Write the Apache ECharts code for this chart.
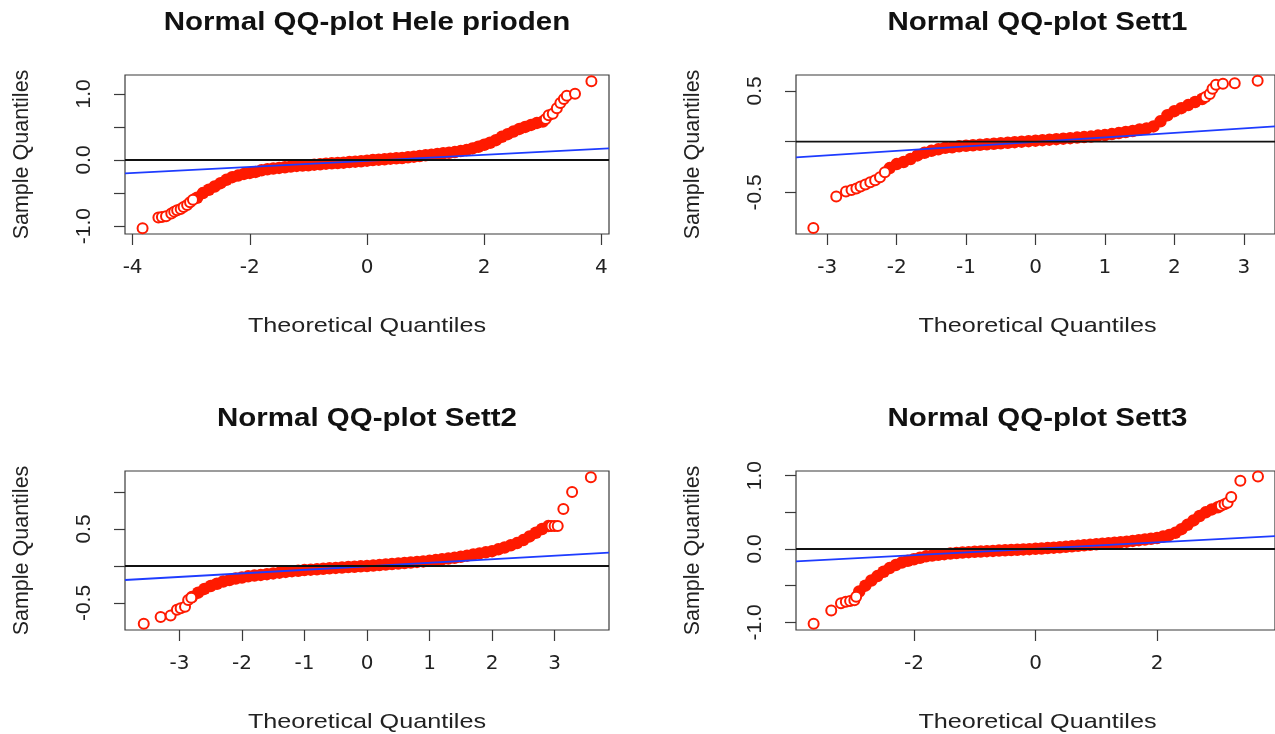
<!DOCTYPE html>
<html>
<head>
<meta charset="utf-8">
<script src="https://cdn.jsdelivr.net/npm/echarts@6/dist/echarts.min.js"></script>
<style>
  html, body { margin: 0; padding: 0; background: #fff; }
  #chart { width: 1275px; height: 734px; }
</style>
</head>
<body>
<div id="chart"></div>
<script>
// panel titles
const titles = ['Normal QQ-plot Hele prioden', 'Normal QQ-plot Sett1', 'Normal QQ-plot Sett2', 'Normal QQ-plot Sett3'];

// Hele prioden: [theoretical, sample]
const heleCore = [
  [-2.9,-0.57],[-2.8,-0.50],[-2.7,-0.45],[-2.6,-0.40],[-2.5,-0.35],[-2.4,-0.30],[-2.3,-0.26],[-2.2,-0.235],
  [-2.1,-0.21],[-2.0,-0.195],[-1.9,-0.18],[-1.8,-0.155],[-1.7,-0.14],[-1.6,-0.13],[-1.5,-0.12],[-1.4,-0.11],
  [-1.3,-0.10],[-1.2,-0.09],[-1.1,-0.085],[-1.0,-0.08],[-0.9,-0.07],[-0.8,-0.065],[-0.7,-0.055],[-0.6,-0.05],
  [-0.5,-0.045],[-0.4,-0.04],[-0.3,-0.03],[-0.2,-0.025],[-0.1,-0.02],[0.0,-0.01],[0.1,0.0],[0.2,0.005],
  [0.3,0.01],[0.4,0.02],[0.5,0.025],[0.6,0.03],[0.7,0.04],[0.8,0.05],[0.9,0.06],[1.0,0.07],
  [1.1,0.08],[1.2,0.09],[1.3,0.10],[1.4,0.11],[1.5,0.12],[1.6,0.135],[1.7,0.15],[1.8,0.175],
  [1.9,0.20],[2.0,0.23],[2.1,0.26],[2.2,0.30],[2.3,0.35],[2.4,0.39],[2.5,0.43],[2.6,0.47],
  [2.7,0.50],[2.8,0.53],[2.9,0.56],[3.0,0.58]
];
const heleTails = [
  [-3.83,-1.03],[-3.56,-0.87],[-3.50,-0.86],[-3.43,-0.85],[-3.34,-0.81],[-3.29,-0.78],[-3.24,-0.76],
  [-3.18,-0.74],[-3.13,-0.71],[-3.07,-0.68],[-3.02,-0.64],[-2.97,-0.60],
  [3.05,0.62],[3.10,0.675],[3.17,0.70],[3.24,0.78],[3.30,0.86],[3.36,0.92],[3.41,0.97],[3.55,1.0],[3.83,1.19]
];
const heleLine = [[-4.13,-0.201],[4.13,0.177]];

// Sett1
const sett1Core = [
  [-2.1,-0.26],[-2.0,-0.22],[-1.9,-0.20],[-1.8,-0.17],[-1.7,-0.135],[-1.6,-0.11],[-1.5,-0.09],[-1.4,-0.075],
  [-1.3,-0.06],[-1.2,-0.055],[-1.1,-0.045],[-1.0,-0.04],[-0.9,-0.035],[-0.8,-0.03],[-0.7,-0.025],[-0.6,-0.02],
  [-0.5,-0.015],[-0.4,-0.01],[-0.3,-0.005],[-0.2,0.0],[-0.1,0.005],[0.0,0.01],[0.1,0.015],[0.2,0.02],
  [0.3,0.025],[0.4,0.03],[0.5,0.035],[0.6,0.04],[0.7,0.045],[0.8,0.05],[0.9,0.06],[1.0,0.065],
  [1.1,0.075],[1.2,0.085],[1.3,0.095],[1.4,0.105],[1.5,0.12],[1.6,0.13],[1.7,0.15],[1.8,0.20],
  [1.9,0.26],[2.0,0.30],[2.1,0.33],[2.2,0.36],[2.3,0.39],[2.4,0.42]
];
const sett1Tails = [
  [-3.20,-0.85],[-2.87,-0.54],[-2.73,-0.49],[-2.65,-0.475],[-2.58,-0.46],[-2.52,-0.44],[-2.45,-0.42],
  [-2.38,-0.40],[-2.31,-0.38],[-2.24,-0.35],[-2.17,-0.30],
  [2.45,0.44],[2.51,0.47],[2.55,0.52],[2.60,0.56],[2.70,0.57],[2.87,0.575],[3.20,0.60]
];
const sett1Line = [[-3.45,-0.154],[3.45,0.150]];

// Sett2
const sett2Core = [
  [-2.8,-0.42],[-2.7,-0.36],[-2.6,-0.31],[-2.5,-0.27],[-2.4,-0.24],[-2.3,-0.21],[-2.2,-0.19],[-2.1,-0.17],
  [-2.0,-0.155],[-1.9,-0.14],[-1.8,-0.13],[-1.7,-0.12],[-1.6,-0.11],[-1.5,-0.10],[-1.4,-0.09],[-1.3,-0.08],
  [-1.2,-0.07],[-1.1,-0.065],[-1.0,-0.055],[-0.9,-0.05],[-0.8,-0.045],[-0.7,-0.038],[-0.6,-0.032],[-0.5,-0.026],
  [-0.4,-0.02],[-0.3,-0.015],[-0.2,-0.01],[-0.1,-0.004],[0.0,0.0],[0.1,0.006],[0.2,0.012],[0.3,0.02],
  [0.4,0.027],[0.5,0.033],[0.6,0.04],[0.7,0.047],[0.8,0.055],[0.9,0.062],[1.0,0.07],[1.1,0.08],
  [1.2,0.09],[1.3,0.10],[1.4,0.11],[1.5,0.125],[1.6,0.14],[1.7,0.155],[1.8,0.17],[1.9,0.185],
  [2.0,0.20],[2.1,0.225],[2.2,0.25],[2.3,0.28],[2.4,0.31],[2.5,0.35],[2.6,0.40],[2.7,0.45],
  [2.8,0.50],[2.9,0.54]
];
const sett2Tails = [
  [-3.57,-0.78],[-3.30,-0.69],[-3.14,-0.67],[-3.04,-0.59],[-2.98,-0.57],[-2.91,-0.55],[-2.86,-0.46],[-2.81,-0.43],
  [2.95,0.54],[3.00,0.54],[3.05,0.54],[3.14,0.77],[3.28,1.00],[3.58,1.20]
];
const sett2Line = [[-3.87,-0.189],[3.87,0.180]];

// Sett3
const sett3Core = [
  [-2.9,-0.58],[-2.8,-0.50],[-2.7,-0.43],[-2.6,-0.37],[-2.5,-0.31],[-2.4,-0.26],[-2.3,-0.22],[-2.2,-0.185],
  [-2.1,-0.16],[-2.0,-0.14],[-1.9,-0.12],[-1.8,-0.10],[-1.7,-0.09],[-1.6,-0.08],[-1.5,-0.07],[-1.4,-0.062],
  [-1.3,-0.055],[-1.2,-0.048],[-1.1,-0.043],[-1.0,-0.038],[-0.9,-0.034],[-0.8,-0.03],[-0.7,-0.026],[-0.6,-0.022],
  [-0.5,-0.018],[-0.4,-0.014],[-0.3,-0.01],[-0.2,-0.006],[-0.1,-0.002],[0.0,0.002],[0.1,0.007],[0.2,0.012],
  [0.3,0.018],[0.4,0.024],[0.5,0.03],[0.6,0.037],[0.7,0.044],[0.8,0.05],[0.9,0.057],[1.0,0.064],
  [1.1,0.07],[1.2,0.078],[1.3,0.085],[1.4,0.093],[1.5,0.10],[1.6,0.11],[1.7,0.12],[1.8,0.13],
  [1.9,0.14],[2.0,0.15],[2.1,0.17],[2.2,0.19],[2.3,0.22],[2.4,0.27],[2.5,0.33],[2.6,0.39],
  [2.7,0.45],[2.8,0.50],[2.9,0.54],[3.0,0.57]
];
const sett3Tails = [
  [-3.65,-1.02],[-3.36,-0.84],[-3.20,-0.74],[-3.12,-0.72],[-3.05,-0.71],[-2.98,-0.70],[-2.95,-0.65],
  [3.05,0.59],[3.11,0.61],[3.16,0.63],[3.22,0.71],[3.37,0.93],[3.66,0.99]
];
const sett3Line = [[-3.94,-0.170],[3.94,0.176]];

// axis limits and ticks
const heleXLim = [-4.13, 4.13],  heleYLim = [-1.118, 1.284];
const sett1XLim = [-3.45, 3.45], sett1YLim = [-0.908, 0.656];
const sett2XLim = [-3.87, 3.87], sett2YLim = [-0.865, 1.284];
const sett3XLim = [-3.94, 3.94], sett3YLim = [-1.105, 1.064];

const heleXTicks = [-4, -2, 0, 2, 4];
const sett1XTicks = [-3, -2, -1, 0, 1, 2, 3];
const sett2XTicks = [-3, -2, -1, 0, 1, 2, 3];
const sett3XTicks = [-2, 0, 2];

const heleYTicks = [-1, -0.5, 0, 0.5, 1],   heleYLabels = [-1, 0, 1];
const sett1YTicks = [-0.5, 0, 0.5],         sett1YLabels = [-0.5, 0.5];
const sett2YTicks = [-0.5, 0, 0.5, 1],      sett2YLabels = [-0.5, 0.5];
const sett3YTicks = [-1, -0.5, 0, 0.5, 1],  sett3YLabels = [-1, 0, 1];

const FONT = '"Liberation Sans", Arial, sans-serif';
const RED = '#ff1a00';

const panels = [
  { title: titles[0], core: heleCore, tails: heleTails, line: heleLine, xLim: heleXLim, yLim: heleYLim,
    xTicks: heleXTicks, yTicks: heleYTicks, yLabels: heleYLabels, box: [125, 75, 484, 159] },
  { title: titles[1], core: sett1Core, tails: sett1Tails, line: sett1Line, xLim: sett1XLim, yLim: sett1YLim,
    xTicks: sett1XTicks, yTicks: sett1YTicks, yLabels: sett1YLabels, box: [796, 75, 483, 159] },
  { title: titles[2], core: sett2Core, tails: sett2Tails, line: sett2Line, xLim: sett2XLim, yLim: sett2YLim,
    xTicks: sett2XTicks, yTicks: sett2YTicks, yLabels: sett2YLabels, box: [125, 471, 484, 159] },
  { title: titles[3], core: sett3Core, tails: sett3Tails, line: sett3Line, xLim: sett3XLim, yLim: sett3YLim,
    xTicks: sett3XTicks, yTicks: sett3YTicks, yLabels: sett3YLabels, box: [796, 471, 483, 159] }
];

const grid = [], xAxis = [], yAxis = [], series = [], graphic = [];

panels.forEach(function (p, i) {
  const [left, top, width, height] = p.box;
  grid.push({ left: left, top: top, width: width, height: height, show: true,
    borderColor: '#3a3a3a', borderWidth: 1.2, backgroundColor: 'transparent' });

  xAxis.push({
    type: 'value', gridIndex: i, min: p.xLim[0], max: p.xLim[1],
    splitLine: { show: false },
    axisLine: { show: false, onZero: false },
    axisTick: { show: true, length: 11, customValues: p.xTicks, lineStyle: { color: '#3a3a3a', width: 1.2 } },
    axisLabel: { customValues: p.xTicks, margin: 24, fontFamily: '"DejaVu Sans", sans-serif', fontSize: 20, color: '#222' }
  });
  yAxis.push({
    type: 'value', gridIndex: i, min: p.yLim[0], max: p.yLim[1],
    splitLine: { show: false },
    axisLine: { show: false, onZero: false },
    axisTick: { show: true, length: 11, customValues: p.yTicks, lineStyle: { color: '#3a3a3a', width: 1.2 } },
    axisLabel: { customValues: p.yLabels, rotate: 90, margin: 30, fontFamily: FONT, fontSize: 21, color: '#222',
      formatter: function (v) { return v.toFixed(1); } }
  });

  // dense part of the sample: circles overlap into a solid band
  series.push({ type: 'scatter', xAxisIndex: i, yAxisIndex: i, data: p.core, symbol: 'circle', symbolSize: 12.5,
    itemStyle: { color: RED, opacity: 1 }, z: 2, silent: true });
  // sparse tails: open circles
  series.push({ type: 'scatter', xAxisIndex: i, yAxisIndex: i, data: p.tails, symbol: 'emptyCircle', symbolSize: 10,
    itemStyle: { color: RED, borderColor: RED, borderWidth: 1.1, opacity: 1 }, z: 3, silent: true });
  // qqline
  series.push({ type: 'line', xAxisIndex: i, yAxisIndex: i, data: p.line, symbol: 'none',
    lineStyle: { color: '#1e3cff', width: 1.8 }, z: 4, silent: true });
  // zero line
  series.push({ type: 'line', xAxisIndex: i, yAxisIndex: i, data: [[p.xLim[0], 0], [p.xLim[1], 0]], symbol: 'none',
    lineStyle: { color: '#111', width: 1.8 }, z: 5, silent: true });

  const cx = left + width / 2;
  graphic.push({ type: 'text', x: cx, y: top - 52, scaleX: 1.18,
    style: { text: p.title, x: 0, y: 0, align: 'center', verticalAlign: 'middle',
      font: 'bold 25px ' + FONT, fill: '#111' } });
  graphic.push({ type: 'text', x: cx, y: top + height + 92, scaleX: 1.2,
    style: { text: 'Theoretical Quantiles', x: 0, y: 0, align: 'center', verticalAlign: 'middle',
      font: '21px ' + FONT, fill: '#222' } });
  graphic.push({ type: 'text', x: left - 103, y: top + height / 2, rotation: Math.PI / 2,
    style: { text: 'Sample Quantiles', x: 0, y: 0, align: 'center', verticalAlign: 'middle',
      font: '21.5px ' + FONT, fill: '#222' } });
});

const chart = echarts.init(document.getElementById('chart'));
chart.setOption({
  animation: false,
  backgroundColor: '#fff',
  grid: grid,
  xAxis: xAxis,
  yAxis: yAxis,
  series: series,
  graphic: graphic
});
</script>
</body>
</html>
